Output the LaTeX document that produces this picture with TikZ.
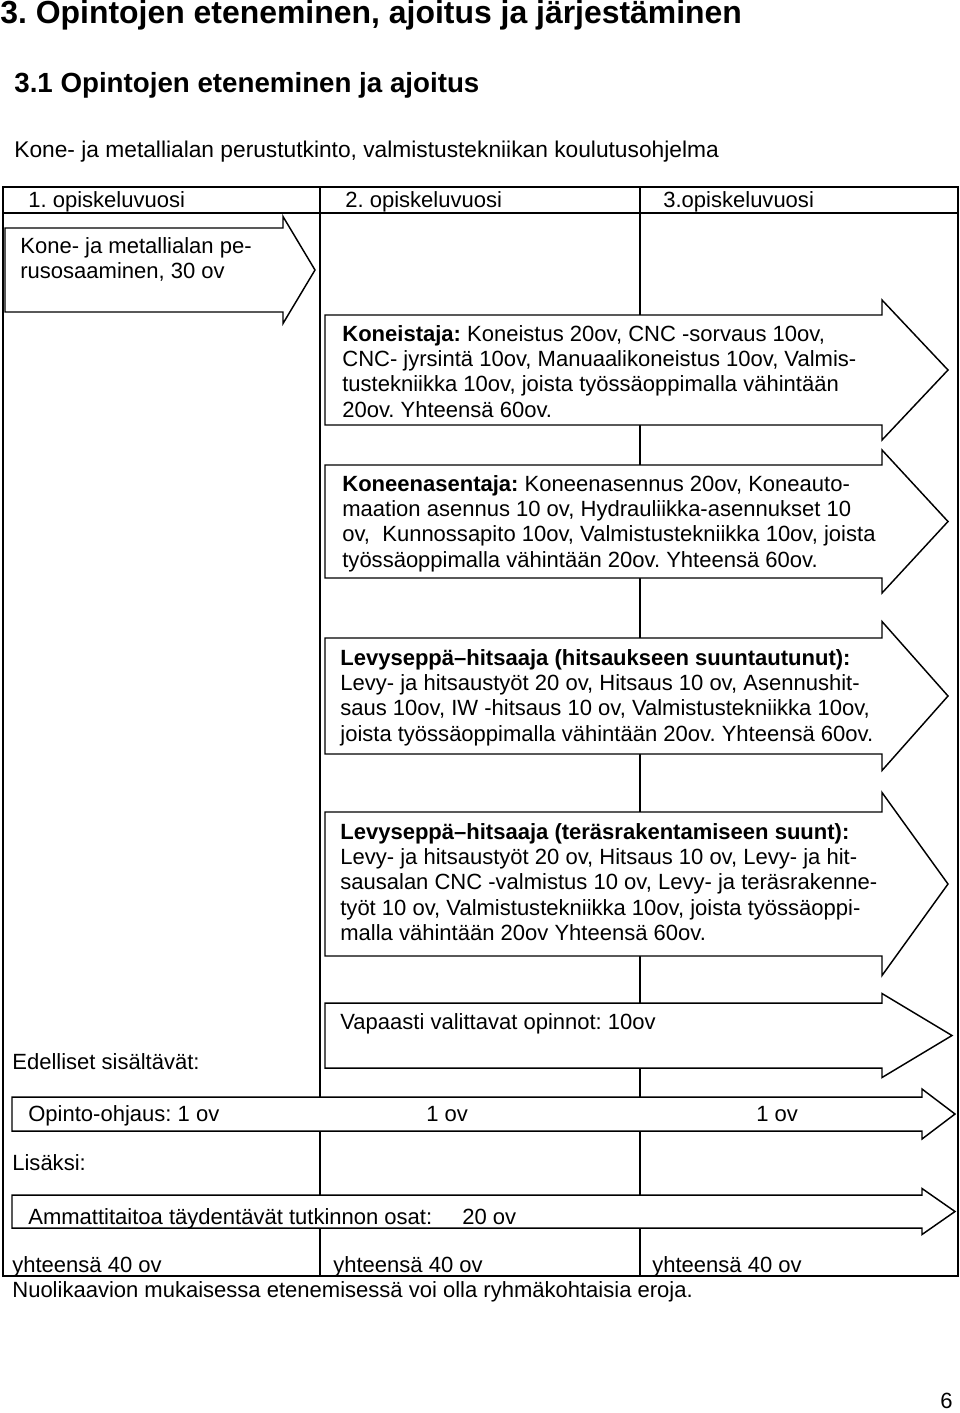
\documentclass[tikz,border=0pt]{standalone}
\usepackage{fontspec}
\setmainfont{Liberation Sans}
\usepackage{tikz}
\frenchspacing

\tikzset{
  arrowbox/.style={draw=black, fill=white, line width=0.8pt, line join=miter},
  grid/.style={draw=black, line width=0.7pt},
  txt/.style={font=\fontsize{12}{13.8}\selectfont, inner sep=0pt, anchor=base west},
  para/.style={txt, align=left, anchor=north west},
}

% fat arrow: left x, head base x, tip x, centre y, half body, half head
\newcommand{\bigarrow}[6]{%
  \filldraw[arrowbox] (#1,{#4-#5}) -- (#2,{#4-#5}) -- (#2,{#4-#6}) -- (#3,#4)
    -- (#2,{#4+#6}) -- (#2,{#4+#5}) -- (#1,{#4+#5}) -- cycle;}

\begin{document}
\begin{tikzpicture}[x=0.545pt, y=-0.545pt]
    \useasboundingbox (0,0) rectangle (960,1413);

    \node[txt, font=\fontsize{17.4}{20}\selectfont\bfseries] at (0,23) (title) {3. Opintojen eteneminen, ajoitus ja järjestäminen};
    \node[txt, font=\fontsize{15.1}{18}\selectfont\bfseries] at (14,92) (subtitle) {3.1 Opintojen eteneminen ja ajoitus};
    \node[txt, font=\fontsize{12.4}{14}\selectfont] at (14,157) (programme) {Kone- ja metallialan perustutkinto, valmistustekniikan koulutusohjelma};

    \draw[grid] (3,187) rectangle (958,1276);
    \draw[grid] (3,213) -- (958,213);
    \draw[grid] (320,187) -- (320,1276);
    \draw[grid] (640,187) -- (640,1276);

    \node[txt] at (28,207) (year1) {1. opiskeluvuosi};
    \node[txt] at (345,207) (year2) {2. opiskeluvuosi};
    \node[txt] at (663,207) (year3) {3.opiskeluvuosi};

    \bigarrow{5}{283}{315}{270}{42}{53.5}
    \node[para] at (20,237) (basics) {Kone- ja metallialan pe-\\rusosaaminen, 30 ov};

    \bigarrow{325}{882}{948}{370}{55}{70}
    \node[para] at (342,325) (machinist) {\textbf{Koneistaja:} Koneistus 20ov, CNC -sorvaus 10ov,\\CNC- jyrsintä 10ov, Manuaalikoneistus 10ov, Valmis-\\tustekniikka 10ov, joista työssäoppimalla vähintään\\20ov. Yhteensä 60ov.};

    \bigarrow{325}{882}{948}{521.5}{56.5}{71.5}
    \node[para] at (342,475) (fitter) {\textbf{Koneenasentaja:} Koneenasennus 20ov, Koneauto-\\maation asennus 10 ov, Hydrauliikka-asennukset 10\\ov,\ \ Kunnossapito 10ov, Valmistustekniikka 10ov, joista\\työssäoppimalla vähintään 20ov. Yhteensä 60ov.};

    \bigarrow{325}{882}{948}{696}{58}{74.5}
    \node[para] at (340,649) (welder) {\textbf{Levyseppä–hitsaaja (hitsaukseen suuntautunut):}\\Levy- ja hitsaustyöt 20 ov, Hitsaus 10 ov, Asennushit-\\saus 10ov, IW -hitsaus 10 ov, Valmistustekniikka 10ov,\\joista työssäoppimalla vähintään 20ov. Yhteensä 60ov.};

    \bigarrow{325}{882}{948}{884}{72}{91.5}
    \node[para] at (340,823) (steel) {\textbf{Levyseppä–hitsaaja (teräsrakentamiseen suunt):}\\Levy- ja hitsaustyöt 20 ov, Hitsaus 10 ov, Levy- ja hit-\\sausalan CNC -valmistus 10 ov, Levy- ja teräsrakenne-\\työt 10 ov, Valmistustekniikka 10ov, joista työssäoppi-\\malla vähintään 20ov Yhteensä 60ov.};

    \bigarrow{325}{882}{952}{1035.5}{32.5}{42}
    \node[txt] at (340,1029) (free) {Vapaasti valittavat opinnot: 10ov};

    \node[txt] at (12,1069) (includes) {Edelliset sisältävät:};

    \bigarrow{12}{922}{955}{1114}{17}{25}
    \node[txt] at (28,1121) (guidance1) {Opinto-ohjaus: 1 ov};
    \node[txt] at (426,1121) (guidance2) {1 ov};
    \node[txt] at (756,1121) (guidance3) {1 ov};

    \node[txt] at (12,1170) (besides) {Lisäksi:};

    \bigarrow{12}{922}{955}{1211.5}{16.5}{23}
    \node[txt] at (28,1224) (extra) {Ammattitaitoa täydentävät tutkinnon osat:};
    \node[txt] at (462,1224) (extraov) {20 ov};

    \node[txt] at (12,1272) (total1) {yhteensä 40 ov};
    \node[txt] at (333,1272) (total2) {yhteensä 40 ov};
    \node[txt] at (652,1272) (total3) {yhteensä 40 ov};

    \node[txt] at (12,1297) (note) {Nuolikaavion mukaisessa etenemisessä voi olla ryhmäkohtaisia eroja.};
    \node[txt] at (940,1408) (page) {6};
\end{tikzpicture}
\end{document}
